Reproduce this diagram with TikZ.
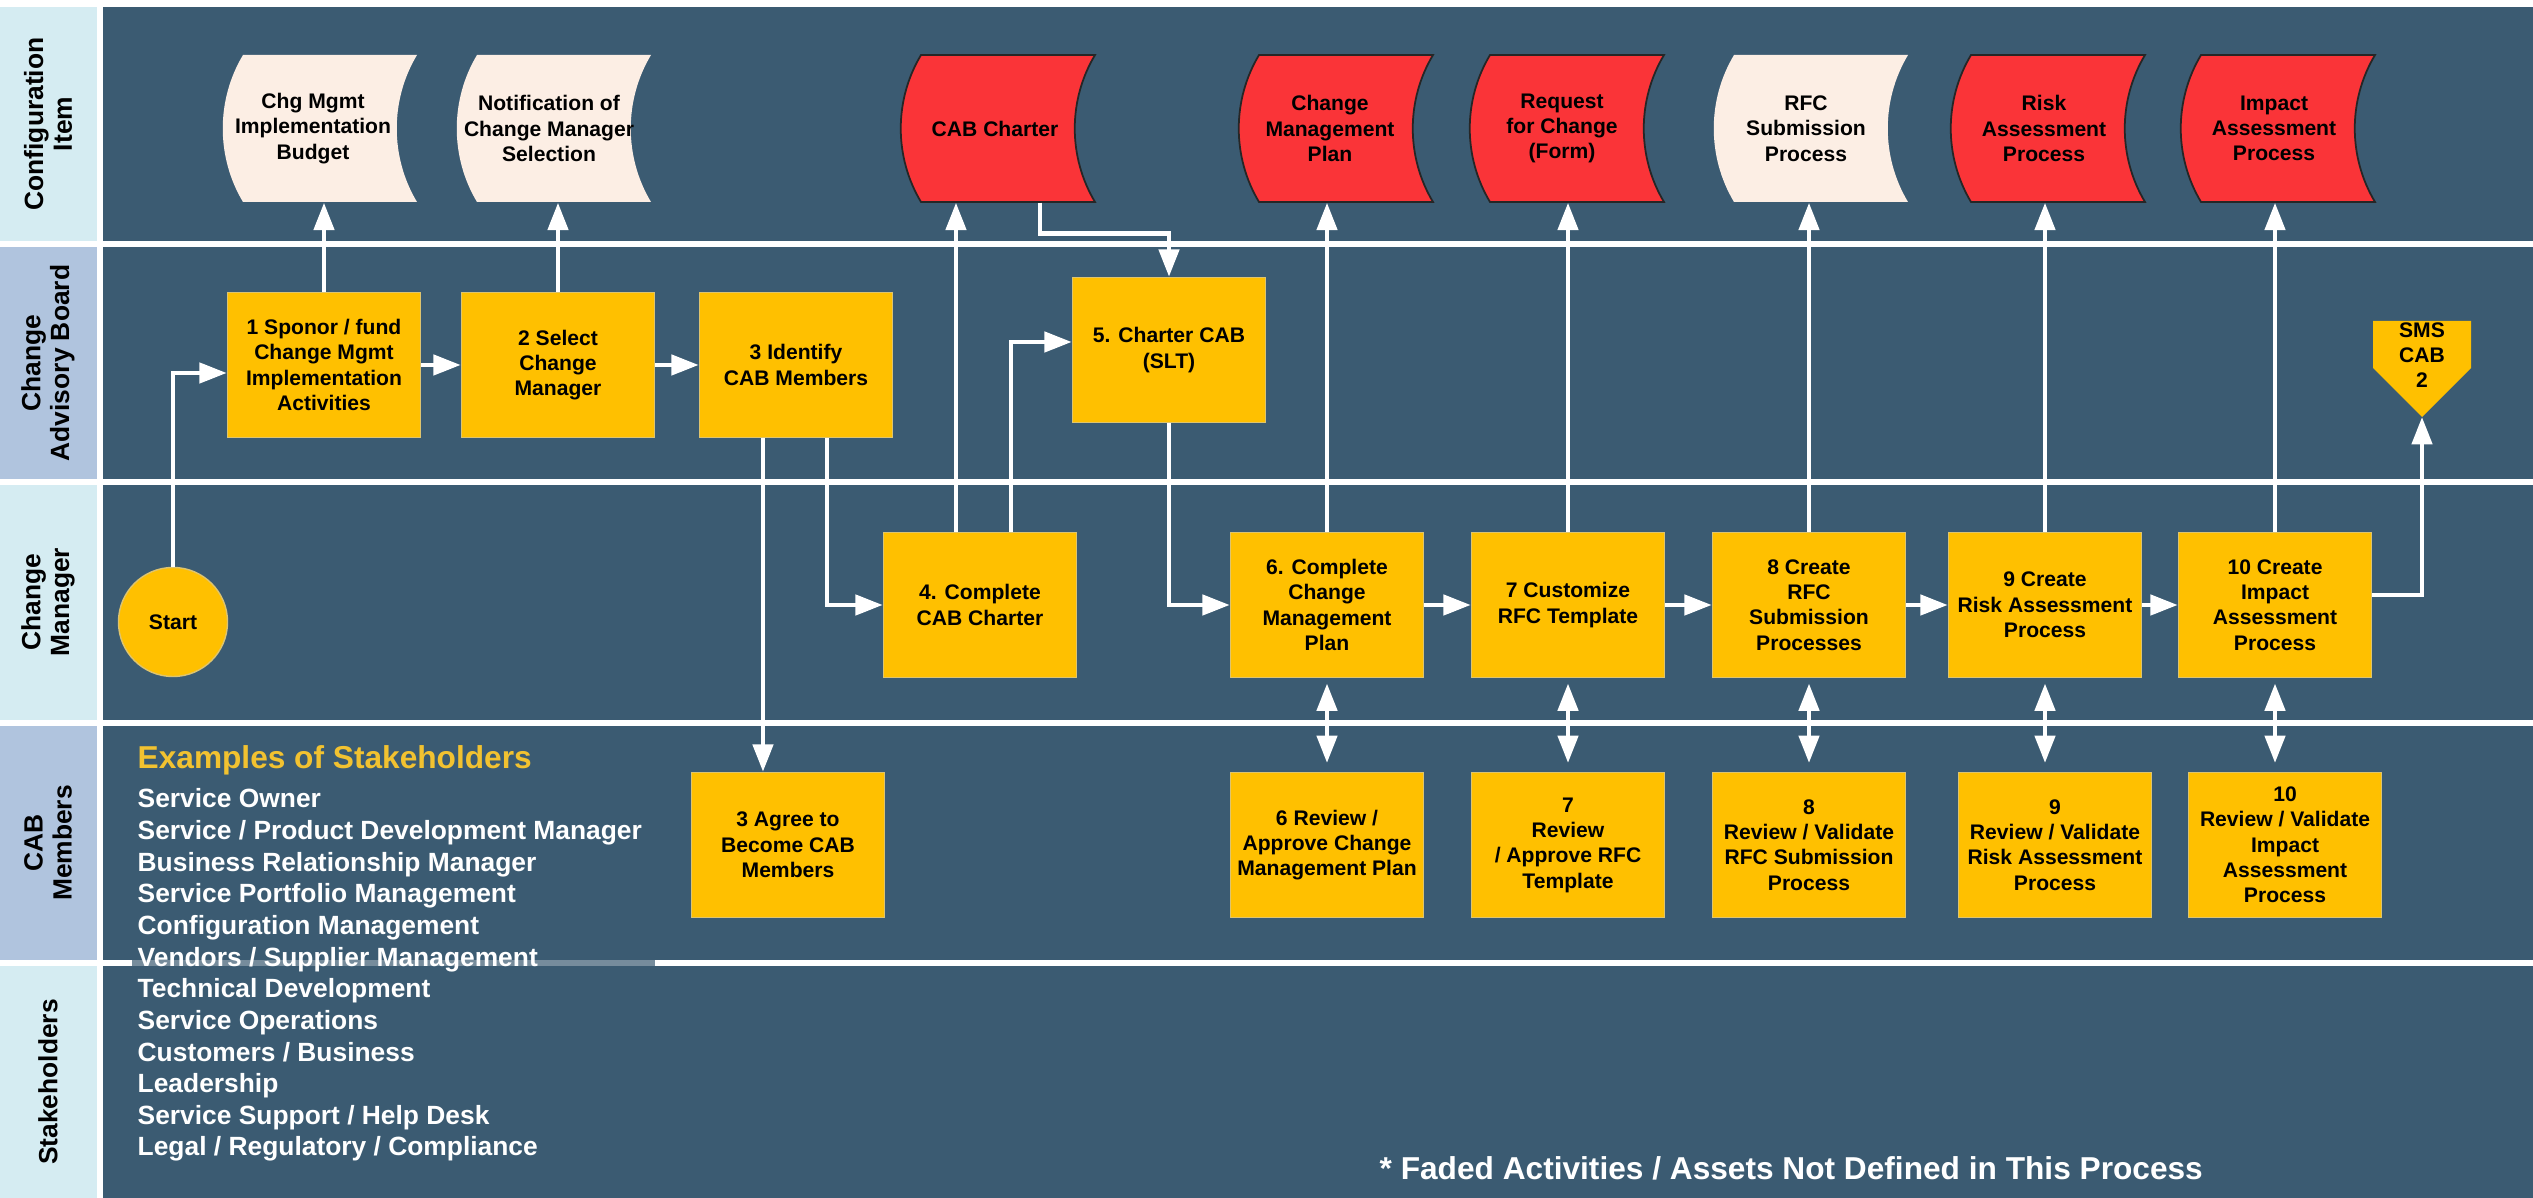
\documentclass[tikz,border=0pt]{standalone}
\usepackage{fontspec}
\setmainfont{Liberation Sans}
\usetikzlibrary{positioning,arrows.meta,calc}

\definecolor{lanebg}{RGB}{59,91,114}
\definecolor{lablight}{RGB}{213,236,242}
\definecolor{labdark}{RGB}{176,196,222}
\definecolor{actfill}{RGB}{255,192,0}
\definecolor{actline}{RGB}{222,196,110}
\definecolor{ciasset}{RGB}{250,52,56}
\definecolor{cifaded}{RGB}{252,238,228}
\definecolor{exgold}{RGB}{242,194,48}

% tape outline of a configuration item, x centre and style
\newcommand{\ciframe}[2]{%
  \path[#2] (#1-77,55) -- (#1+97,55) .. controls (#1+70,100) and (#1+70,157) .. (#1+97,202)
    -- (#1-77,202) .. controls (#1-104,157) and (#1-104,100) .. (#1-77,55) -- cycle;}

\begin{document}
\begin{tikzpicture}[x=0.01cm,y=-0.01cm,>={Triangle[length=7.8pt,width=5.7pt]}]
\tikzstyle{act} = [draw=actline,fill=actfill,shape=rectangle,minimum width=1.93cm,minimum height=1.45cm,inner sep=1pt,align=center,font=\bfseries\fontsize{6}{7.2}\selectfont]
\tikzstyle{ci} = [shape=rectangle,minimum width=1.9cm,minimum height=1.47cm,inner sep=0pt,align=center,font=\bfseries\fontsize{6}{7.2}\selectfont]
\tikzstyle{assetdoc} = [fill=ciasset,draw=black!85,line width=0.5pt]
\tikzstyle{fadedoc} = [fill=cifaded]
\tikzstyle{lanelbl} = [rotate=90,align=center,font=\bfseries\fontsize{7.5}{8.2}\selectfont]
\tikzstyle{flow} = [->,draw=white,line width=1.3pt]
\tikzstyle{dflow} = [<->,draw=white,line width=1.3pt,shorten <=1.5pt,shorten >=2.5pt]
\tikzstyle{sep} = [draw=white,line width=1.7pt]

% lanes
\useasboundingbox (0,0) rectangle (2533,1198);
\fill[white] (0,0) rectangle (2533,1198);
\fill[lanebg] (103,7) rectangle (2533,1198);
\fill[lablight] (0,7) rectangle (97,244);
\fill[labdark] (0,244) rectangle (97,482);
\fill[lablight] (0,482) rectangle (97,723);
\fill[labdark] (0,723) rectangle (97,963);
\fill[lablight] (0,963) rectangle (97,1198);
\draw[sep] (0,244) -- (2533,244);
\draw[sep] (0,482) -- (2533,482);
\draw[sep] (0,723) -- (2533,723);
\draw[sep] (0,963) -- (132,963);
\draw[sep,opacity=0.3] (132,963) -- (655,963);
\draw[sep] (655,963) -- (2533,963);

\node[lanelbl] (lci) at (48,124) {Configuration\\Item};
\node[lanelbl] (lcab) at (48,363) {Change\\Advisory Board};
\node[lanelbl] (lcm) at (48,602) {Change\\Manager};
\node[lanelbl] (lmem) at (48,843) {CAB\\Members};
\node[lanelbl] (lstk) at (48,1082) {Stakeholders};

% configuration items
\ciframe{320}{fadedoc}
\ciframe{554}{fadedoc}
\ciframe{998}{assetdoc}
\ciframe{1336}{assetdoc}
\ciframe{1567}{assetdoc}
\ciframe{1811}{fadedoc}
\ciframe{2048}{assetdoc}
\ciframe{2278}{assetdoc}
\node[ci] (budget) at (313,128.5) {Chg Mgmt\\Implementation\\Budget};
\node[ci] (notify) at (549,128.5) {Notification of\\Change Manager\\Selection};
\node[ci] (charter) at (995,128.5) {CAB Charter};
\node[ci] (cmplan) at (1330,128.5) {Change\\Management\\Plan};
\node[ci] (rfcform) at (1562,128.5) {Request\\for Change\\(Form)};
\node[ci] (rfcsub) at (1806,128.5) {RFC\\Submission\\Process};
\node[ci] (riskdoc) at (2044,128.5) {Risk\\Assessment\\Process};
\node[ci] (impactdoc) at (2274,128.5) {Impact\\Assessment\\Process};

% change advisory board
\node[act] (b1) at (324,365) {1 Sponor / fund\\Change Mgmt\\Implementation\\Activities};
\node[act] (b2) at (558,365) {2 Select\\Change\\Manager};
\node[act] (b3) at (796,365) {3 Identify\\CAB Members};
\node[act] (b5) at (1169,350) {5. Charter CAB\\(SLT)};
\fill[actfill] (2373,321) -- (2471,321) -- (2471,368) -- (2422,417) -- (2373,368) -- cycle;
\node[align=center,inner sep=0pt,font=\bfseries\fontsize{6}{7.2}\selectfont] (sms) at (2422,355) {SMS\\CAB\\2};
\coordinate (smstip) at (2422,417);

% change manager
\node[draw=actline,fill=actfill,shape=circle,minimum size=1.09cm,inner sep=0pt,font=\bfseries\fontsize{6}{7.2}\selectfont] (st) at (173,622) {Start};
\node[act] (b4) at (980,605) {4. Complete\\CAB Charter};
\node[act] (b6) at (1327,605) {6. Complete\\Change\\Management\\Plan};
\node[act] (b7) at (1568,605) {7 Customize\\RFC Template};
\node[act] (b8) at (1809,605) {8 Create\\RFC\\Submission\\Processes};
\node[act] (b9) at (2045,605) {9 Create\\Risk Assessment\\Process};
\node[act] (b10) at (2275,605) {10 Create\\Impact\\Assessment\\Process};

% cab members
\node[act] (a3) at (788,845) {3 Agree to\\Become CAB\\Members};
\node[act] (r6) at (1327,845) {6 Review /\\Approve Change\\Management Plan};
\node[act] (r7) at (1568,845) {7\\Review\\/ Approve RFC\\Template};
\node[act] (r8) at (1809,845) {8\\Review / Validate\\RFC Submission\\Process};
\node[act] (r9) at (2055,845) {9\\Review / Validate\\Risk Assessment\\Process};
\node[act] (r10) at (2285,845) {10\\Review / Validate\\Impact\\Assessment\\Process};

% stakeholders
\node[anchor=west,inner sep=0pt,text=exgold,font=\bfseries\fontsize{9}{10}\selectfont] (exhead) at (137,760) {Examples of Stakeholders};
\node[anchor=north west,inner sep=0pt,align=left,text=white,font=\bfseries\fontsize{7.5}{9}\selectfont] (exlist) at (137,788)
  {Service Owner\\Service / Product Development Manager\\Business Relationship Manager\\Service Portfolio Management\\Configuration Management\\Vendors / Supplier Management\\Technical Development\\Service Operations\\Customers / Business\\Leadership\\Service Support / Help Desk\\Legal / Regulatory / Compliance};
\node[anchor=west,inner sep=0pt,text=white,font=\bfseries\fontsize{9}{10}\selectfont] (note) at (1379,1168) {* Faded Activities / Assets Not Defined in This Process};

% flow
\coordinate (b3dn) at ([xshift=-0.33cm]b3.south);
\coordinate (b3rt) at ([xshift=0.31cm]b3.south);
\coordinate (b4up) at ([xshift=-0.24cm]b4.north);
\coordinate (b4rt) at ([xshift=0.31cm]b4.north);
\draw[flow] (st.north) |- ([yshift=-0.08cm]b1.west);
\draw[flow] (b1) -- (b2);
\draw[flow] (b2) -- (b3);
\draw[flow] (b1.north) -- (b1.north |- budget.south);
\draw[flow] (b2.north) -- (b2.north |- notify.south);
\draw[flow] (b3dn) -- (b3dn |- a3.north);
\draw[flow] (b3rt) |- (b4.west);
\draw[flow] (b4up) -- (b4up |- charter.south);
\draw[flow] (b4rt) |- ([yshift=0.08cm]b5.west);
\draw[flow] ([xshift=0.45cm]charter.south) -- ++(0,-0.31cm) -| (b5.north);
\draw[flow] (b5.south) |- (b6.west);
\draw[flow] (b6) -- (b7);
\draw[flow] (b7) -- (b8);
\draw[flow] (b8) -- (b9);
\draw[flow] (b9) -- (b10);
\draw[flow] (b6.north) -- (b6.north |- cmplan.south);
\draw[flow] (b7.north) -- (b7.north |- rfcform.south);
\draw[flow] (b8.north) -- (b8.north |- rfcsub.south);
\draw[flow] (b9.north) -- (b9.north |- riskdoc.south);
\draw[flow] (b10.north) -- (b10.north |- impactdoc.south);
\draw[flow] ([yshift=0.1cm]b10.east) -| (smstip);
\draw[dflow] (b6.south) -- (b6.south |- r6.north);
\draw[dflow] (b7.south) -- (b7.south |- r7.north);
\draw[dflow] (b8.south) -- (b8.south |- r8.north);
\draw[dflow] (b9.south) -- (b9.south |- r9.north);
\draw[dflow] (b10.south) -- (b10.south |- r10.north);
\end{tikzpicture}
\end{document}
